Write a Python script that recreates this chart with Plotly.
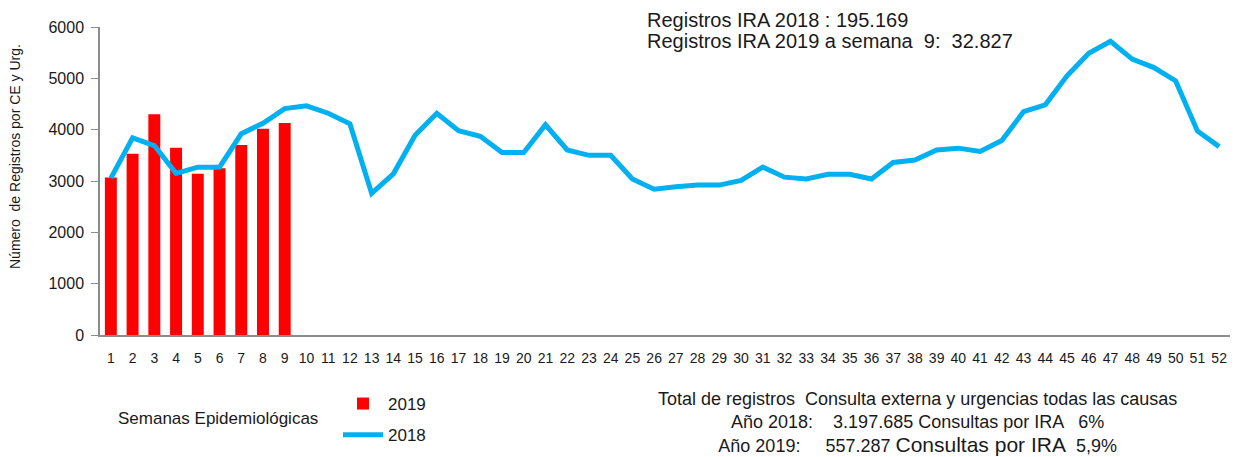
import plotly.graph_objects as go

weeks = [str(i) for i in range(1, 53)]
weeks_2019 = [str(i) for i in range(1, 10)]
values_2019 = [3070, 3530, 4300, 3650, 3140, 3250, 3700, 4020, 4130]
values_2018 = [3055, 3840, 3690, 3150, 3270, 3270, 3920, 4125, 4410, 4465,
               4320, 4115, 2760, 3140, 3890, 4320, 3980, 3870, 3555, 3555,
               4095, 3605, 3500, 3500, 3040, 2840, 2890, 2920, 2920, 3010,
               3270, 3075, 3040, 3130, 3130, 3040, 3360, 3410, 3605, 3640,
               3575, 3790, 4350, 4485, 5050, 5490, 5720, 5375, 5210, 4950,
               3975, 3670]
y_ticks = [0, 1000, 2000, 3000, 4000, 5000, 6000]

FONT = "Liberation Sans, Arial, sans-serif"
TXT = "#1a1a1a"
OFF = 8  # page body margin of the browser
W, H = 1243 - OFF, 457 - OFF
L, R, T, B = 100 - OFF, 13, 27 - OFF, 122
PW, PH = W - L - R, H - T - B


def px(x):
    # x in screenshot pixels -> paper fraction
    return (x - OFF - L) / PW


def py(y):
    # y in screenshot pixels -> paper fraction
    return (H - B - (y - OFF)) / PH


fig = go.Figure()
fig.add_trace(go.Bar(x=weeks_2019, y=values_2019, name="2019",
                     marker=dict(color="#FF0000", line=dict(width=0)),
                     width=0.55, legendgroup="a"))
fig.add_trace(go.Scatter(x=weeks, y=values_2018, name="2018", mode="lines",
                         line=dict(color="#00B0F0", width=5),
                         legendgroup="b"))

fig.update_layout(
    width=W, height=H,
    margin=dict(l=L, r=R, t=T, b=B, autoexpand=False),
    plot_bgcolor="white", paper_bgcolor="white",
    font=dict(family=FONT, size=14, color=TXT),
    showlegend=True,
    legend=dict(xref="container", yref="container", x=(338 - OFF) / W, y=1 - (386 - OFF) / H,
                xanchor="left", yanchor="top",
                orientation="v", traceorder="grouped", tracegroupgap=6,
                font=dict(size=17, color=TXT), bgcolor="rgba(0,0,0,0)", itemwidth=40),
)
fig.update_xaxes(type="category", categoryorder="array", categoryarray=weeks,
                 range=[-0.5, 51.5], showline=True, linecolor="#8c8c8c", linewidth=1.5,
                 ticks="", tickfont=dict(size=14, color=TXT), showgrid=False,
                 ticklabelstandoff=9, automargin=False)
fig.update_yaxes(range=[0, 6000], tickvals=y_ticks, showline=True, linecolor="#8c8c8c",
                 linewidth=1.5, ticks="outside", ticklen=7, tickcolor="#8c8c8c",
                 tickfont=dict(size=16, color=TXT), showgrid=False, zeroline=False,
                 automargin=False, ticklabelstandoff=4)

fig.add_annotation(xref="paper", yref="paper", x=px(15), y=py(157),
                   text="Número  de Registros por CE y Urg.", textangle=-90,
                   showarrow=False, font=dict(size=14, color=TXT),
                   xanchor="center", yanchor="middle")
fig.add_annotation(xref="paper", yref="paper", x=px(218), y=py(418),
                   text="Semanas Epidemiológicas", showarrow=False,
                   font=dict(size=17, color=TXT), xanchor="center", yanchor="middle")
fig.add_annotation(xref="paper", yref="paper", x=px(645), y=py(20),
                   text="Registros IRA 2018 : 195.169",
                   showarrow=False, align="left", font=dict(size=20, color=TXT),
                   xanchor="left", yanchor="middle")
fig.add_annotation(xref="paper", yref="paper", x=px(645), y=py(41),
                   text="Registros IRA 2019 a semana  9:  32.827",
                   showarrow=False, align="left", font=dict(size=20, color=TXT),
                   xanchor="left", yanchor="middle")
fig.add_annotation(xref="paper", yref="paper", x=px(918), y=py(387),
                   text=("Total de registros  Consulta externa y urgencias todas las causas<br>"
                         "Año 2018:    3.197.685 Consultas por IRA   6%<br>"
                         "Año 2019:     557.287 <span style='font-size:21px'>Consultas por IRA</span>  5,9%"),
                   showarrow=False, align="center", font=dict(size=18, color=TXT),
                   xanchor="center", yanchor="top")

fig.write_html("out.html")
